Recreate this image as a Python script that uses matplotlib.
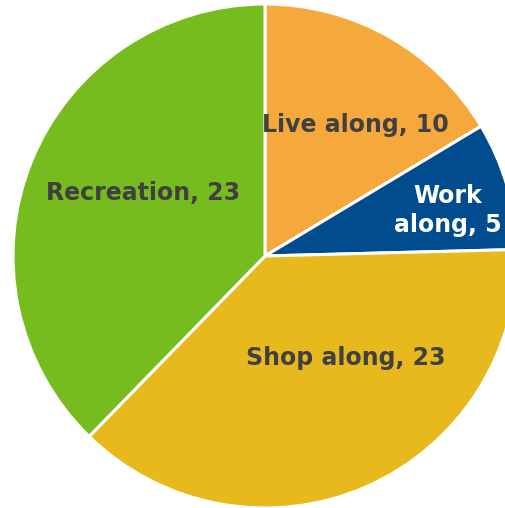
import matplotlib
matplotlib.use("Agg")
import matplotlib.pyplot as plt

labels = ["Live along", "Work along", "Shop along", "Recreation"]
values = [10, 5, 23, 23]
colors = ["#F5A83C", "#004C8F", "#E8B91C", "#77BC1F"]
text_colors = ["#404040", "white", "#404040", "#404040"]
label_text = ["Live along, 10", "Work\nalong, 5", "Shop along, 23", "Recreation, 23"]
label_pos = [(0.36, 0.52), (0.725, 0.18), (0.32, -0.405), (-0.485, 0.25)]

fig = plt.figure(figsize=(5.06, 5.08), dpi=100)
ax = fig.add_axes([0, 0, 1, 1])
ax.pie(values, colors=colors, startangle=90, counterclock=False, radius=1,
       wedgeprops=dict(edgecolor="white", linewidth=2.2))

for txt, (x, y), c in zip(label_text, label_pos, text_colors):
    ax.text(x, y, txt, ha="center", va="center", color=c, fontsize=17,
            fontweight="bold", family=["DejaVu Sans"], linespacing=1.25)

ax.set_xlim(-265 / 252, 241 / 252)
ax.set_ylim(-252 / 252, 256 / 252)
ax.set_aspect("auto")
ax.axis("off")
fig.savefig("out.png", dpi=100)
